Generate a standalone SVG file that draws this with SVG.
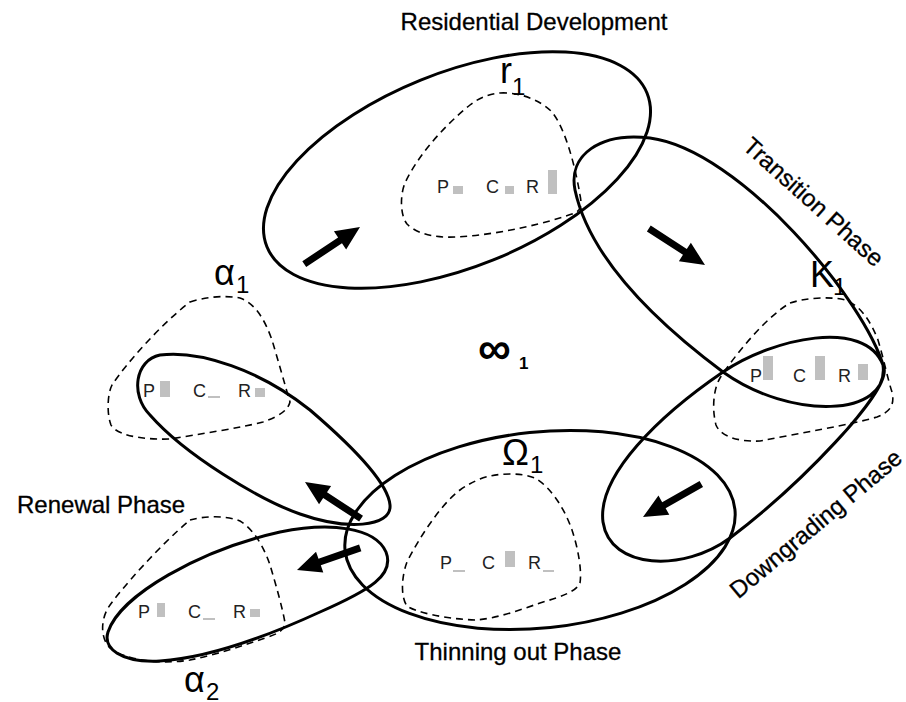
<svg xmlns="http://www.w3.org/2000/svg" width="906" height="702" viewBox="0 0 906 702">
  <style>
    .loop { fill: none; stroke: #000; stroke-width: 3; }
    .blob { fill: none; stroke: #000; stroke-width: 1.6; stroke-dasharray: 7 5; }
    .title { font-family: "Liberation Sans", Arial, sans-serif; font-size: 24px; fill: #000; stroke: #000; stroke-width: 0.3; }
    .lab { font-family: "Liberation Sans", Arial, sans-serif; font-size: 36px; fill: #000; }
    .sub { font-family: "Liberation Sans", Arial, sans-serif; font-size: 24px; fill: #000; }
    .pcr { font-family: "Liberation Sans", Arial, sans-serif; font-size: 18px; fill: #222; }
    .bar { fill: #c0c0c0; }
  </style>
  <defs>
    <!-- thick flow arrow, tip at the origin, pointing along +x -->
    <path id="flow" d="M0,0 L-24,-11 L-24,-3.5 L-67,-3.5 L-67,3.5 L-24,3.5 L-24,11 Z" fill="#000"/>
  </defs>
  <rect width="906" height="702" fill="#fff"/>

  <!-- r phase: residential development -->
  <g id="residential">
    <ellipse class="loop" cx="457" cy="170" rx="205" ry="97" transform="rotate(-22 457 170)"/>
    <path class="blob" d="M500,93 C520,92 540,100 552,112 C565,128 575,165 580,195 C582,205 581,210 575,213 C550,222 500,235 455,237 C430,238 415,232 407,224 C400,215 400,195 405,183 C418,155 445,125 470,105 C480,97 490,94 500,93 Z"/>
    <text class="lab" x="500" y="83">r</text>
    <text class="sub" x="512" y="95">1</text>
    <text class="pcr" x="437" y="193">P</text>
    <rect class="bar" x="453" y="186" width="10" height="8"/>
    <text class="pcr" x="486" y="193">C</text>
    <rect class="bar" x="505" y="186" width="9" height="8"/>
    <text class="pcr" x="526" y="193">R</text>
    <rect class="bar" x="548" y="170" width="9" height="24"/>
  </g>

  <!-- transition / downgrading figure-eight with the K loop -->
  <g id="transition">
    <path class="loop" d="M723,372 C660,325 590,260 575,190 C568,155 600,132 650,138 C740,150 865,300 884,368 C890,392 800,485 730,538 C684,572 610,570 603,522 C597,475 660,415 723,372 C773,338 865,318 883,365 C890,418 790,420 723,372 Z"/>
  </g>

  <g id="k1">
    <path class="blob" d="M790,303 C805,298 830,296 845,300 C860,305 870,320 878,340 C884,360 888,380 892,392 C895,405 890,412 877,417 C850,425 800,433 760,441 C735,442 720,435 716,425 C712,410 713,390 720,378 C735,355 765,318 790,303 Z"/>
    <text class="lab" x="810" y="287">K</text>
    <text class="sub" x="833" y="295">1</text>
    <text class="pcr" x="750" y="382">P</text>
    <rect class="bar" x="763" y="356" width="10" height="24"/>
    <text class="pcr" x="793" y="382">C</text>
    <rect class="bar" x="815" y="356" width="10" height="24"/>
    <text class="pcr" x="838" y="382">R</text>
    <rect class="bar" x="858" y="364" width="10" height="16"/>
  </g>

  <!-- Ω phase: thinning out -->
  <g id="thinning">
    <ellipse class="loop" cx="540" cy="530" rx="196" ry="98" transform="rotate(-6 540 530)"/>
    <path class="blob" d="M480,479 C495,473 520,472 535,478 C552,488 565,510 572,530 C578,548 582,570 580,583 C576,592 560,597 540,603 C520,610 495,619 475,620 C445,619 415,612 407,606 C400,596 402,575 407,562 C418,540 440,505 460,490 C467,485 473,482 480,479 Z"/>
    <text class="lab" x="502" y="465">Ω</text>
    <text class="sub" x="530" y="473">1</text>
    <text class="pcr" x="440" y="569">P</text>
    <rect class="bar" x="453" y="570" width="12" height="2"/>
    <text class="pcr" x="482" y="569">C</text>
    <rect class="bar" x="505" y="551" width="10" height="16"/>
    <text class="pcr" x="528" y="569">R</text>
    <rect class="bar" x="543" y="570" width="11" height="2"/>
  </g>

  <!-- α phase: renewal, first loop -->
  <g id="alpha1">
    <path class="loop" d="M390,505 C388,482 352,446 310,410 C260,370 200,350 160,355 C135,360 130,395 150,415 C185,455 260,500 300,514 C345,530 392,528 390,505 Z"/>
    <path class="blob" d="M190,302 C205,297 225,295 240,298 C255,303 265,320 272,340 C278,360 285,385 290,402 C288,410 280,416 263,422 C240,428 200,434 170,439 C135,440 115,433 111,425 C107,415 107,395 112,385 C125,365 160,325 190,302 Z"/>
    <text class="lab" x="214" y="285">α</text>
    <text class="sub" x="236" y="293">1</text>
    <text class="pcr" x="143" y="397">P</text>
    <rect class="bar" x="160" y="381" width="10" height="16"/>
    <text class="pcr" x="193" y="397">C</text>
    <rect class="bar" x="208" y="396" width="12" height="2"/>
    <text class="pcr" x="238" y="397">R</text>
    <rect class="bar" x="255" y="388" width="10" height="9"/>
  </g>

  <!-- α phase: renewal, second loop -->
  <g id="alpha2">
    <path class="loop" d="M108,632 C120,595 200,550 280,532 C330,522 375,527 386,552 C395,575 370,590 320,612 C270,635 210,658 160,661 C120,663 103,648 108,632 Z"/>
    <path class="blob" d="M190,520 C205,516 225,515 240,521 C255,530 265,550 270,565 C276,585 283,610 285,623 C285,630 278,634 265,638 C245,645 215,655 190,660 C160,665 125,660 110,648 C100,638 101,620 108,608 C120,590 160,545 190,520 Z"/>
    <text class="lab" x="184" y="692">α</text>
    <text class="sub" x="206" y="700">2</text>
    <text class="pcr" x="138" y="618">P</text>
    <rect class="bar" x="157" y="603" width="8" height="14"/>
    <text class="pcr" x="188" y="618">C</text>
    <rect class="bar" x="203" y="618" width="12" height="2"/>
    <text class="pcr" x="233" y="618">R</text>
    <rect class="bar" x="250" y="609" width="10" height="8"/>
  </g>

  <!-- centre marker -->
  <g id="infinity">
    <text x="478" y="364" font-family="Liberation Sans, Arial, sans-serif" font-size="46" font-weight="bold">∞</text>
    <text x="519" y="369" font-family="Liberation Sans, Arial, sans-serif" font-size="17" font-weight="bold">1</text>
  </g>

  <!-- phase names -->
  <g id="phase-names">
    <text class="title" x="534" y="30" text-anchor="middle">Residential Development</text>
    <text class="title" x="17" y="513">Renewal Phase</text>
    <text class="title" x="518" y="660" text-anchor="middle">Thinning out Phase</text>
    <text class="title" text-anchor="middle" transform="translate(808 208) rotate(42)">Transition Phase</text>
    <text class="title" text-anchor="middle" transform="translate(821 530) rotate(-40)">Downgrading Phase</text>
  </g>

  <!-- flow arrows between phases -->
  <g id="connectors">
    <use href="#flow" transform="translate(360 227) rotate(-33.7)"/>
    <use href="#flow" transform="translate(705 265) rotate(33)"/>
    <use href="#flow" transform="translate(643 517) rotate(150.5)"/>
    <use href="#flow" transform="translate(305 482) rotate(-146.8)"/>
    <use href="#flow" transform="translate(297 570) rotate(160.7)"/>
  </g>
</svg>
